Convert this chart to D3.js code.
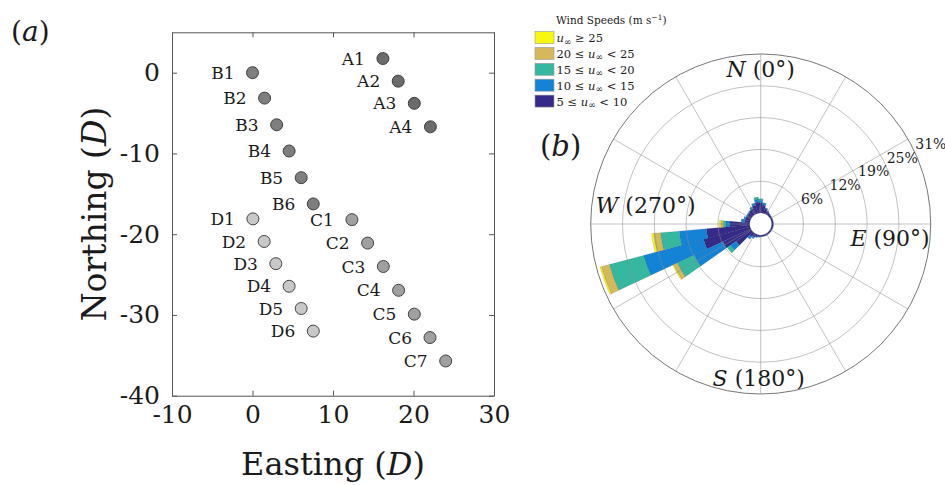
<!DOCTYPE html>
<html>
<head>
<meta charset="utf-8">
<script src="https://cdn.jsdelivr.net/npm/d3@7"></script>
<style>
  body { margin: 0; background: #fff; }
  svg { display: block; }
  text { font-family: "DejaVu Serif", serif; fill: #1a1a1a; }
</style>
</head>
<body>
<svg id="fig" width="945" height="485"></svg>
<script>
// ---------------- Turbine layout, in rotor diameters D ----------------
const turbineNames = ["A1","A2","A3","A4",
                      "B1","B2","B3","B4","B5","B6",
                      "C1","C2","C3","C4","C5","C6","C7",
                      "D1","D2","D3","D4","D5","D6"];
const easting  = [16.2, 18.1, 20.1, 22.1,
                  0.0, 1.5, 3.0, 4.55, 6.05, 7.55,
                  12.35, 14.3, 16.25, 18.15, 20.1, 22.05, 24.0,
                  0.05, 1.45, 2.9, 4.55, 6.05, 7.55];
const northing = [1.75, -1.05, -3.8, -6.7,
                  0.0, -3.15, -6.45, -9.7, -13.0, -16.25,
                  -18.2, -21.1, -24.0, -26.95, -29.9, -32.8, -35.7,
                  -18.1, -20.9, -23.65, -26.45, -29.2, -32.0];
const xTicks = [-10, 0, 10, 20, 30];
const yTicks = [-40, -30, -20, -10, 0];

// ---------------- Wind rose: frequency (%) per 10 degree sector ----------------
const directions = d3.range(0, 360, 10);
const speedBins = [5, 10, 15, 20, 25];           // lower edge of each class (m/s)
const freq5to10  = [1.95,1.55,0.95,0.65,0.45,0.35,0.30,0.30,0.30,0.30,0.30,0.30,
                    0.28,0.28,0.28,0.30,0.30,0.30,0.35,0.40,0.50,0.70,0.90,3.70,
                    6.00,9.40,8.50,3.85,1.07,0.98,0.88,0.90,1.05,1.27,1.65,2.15];
const freq10to15 = [0.55,0.40,0.20,0.10,0.05,0.05,0.05,0.05,0.05,0.05,0.05,0.03,
                    0.03,0.03,0.03,0.03,0.05,0.05,0.05,0.05,0.12,0.30,0.55,1.35,
                    6.20,12.10,5.30,0.78,0.49,0.29,0.20,0.20,0.20,0.30,0.40,0.58];
const freq15to20 = [0.30,0.05,0,0,0,0,0,0,0,0,0,0,
                    0,0,0,0,0,0,0,0,0,0,0.05,0.80,
                    3.60,6.90,3.65,0.52,0.19,0.05,0,0,0,0.05,0.05,0.39];
const freq20to25 = [0,0,0,0,0,0,0,0,0,0,0,0,
                    0,0,0,0,0,0,0,0,0,0,0,0,
                    0.80,1.60,1.35,0.45,0,0,0,0,0,0,0,0];
const freq25plus = [0,0,0,0,0,0,0,0,0,0,0,0,
                    0,0,0,0,0,0,0,0,0,0,0,0,
                    0.20,0.30,0.40,0.33,0,0,0,0,0,0,0,0];
const ringTicks  = [6.2, 12.4, 18.6, 24.8, 31];
const ringLabels = ["6%", "12%", "19%", "25%", "31%"];
const compassLabels = [
  { letter: "N", deg: "0" }, { letter: "E", deg: "90" },
  { letter: "S", deg: "180" }, { letter: "W", deg: "270" }
];

const speedColors = ["#352a87", "#1483d6", "#35b89f", "#d4b85a", "#f7f80e"];

const svg = d3.select("#fig");

// ============ (a) turbine layout ============
const plot = { left: 172, right: 494, top: 32.3, bottom: 395.7 };
const x = d3.scaleLinear().domain([-10, 30]).range([plot.left, plot.right]);
const y = d3.scaleLinear().domain([-40, 5]).range([plot.bottom, plot.top]);

const axisColor = "#555";
function styleAxis(g) {
  g.selectAll(".domain").attr("stroke", axisColor).attr("stroke-width", 1);
  g.selectAll(".tick line").attr("stroke", axisColor).attr("stroke-width", 1);
  g.selectAll(".tick text").attr("fill", "#1a1a1a")
    .style("font-family", '"DejaVu Serif", serif').style("font-size", "25px");
}
svg.append("g").attr("transform", `translate(0,${plot.bottom})`)
  .call(d3.axisBottom(x).tickValues(xTicks).tickSizeInner(-5).tickSizeOuter(0)
        .tickPadding(10).tickFormat(d => String(d)))
  .call(styleAxis);
svg.append("g").attr("transform", `translate(0,${plot.top})`)
  .call(d3.axisTop(x).tickValues(xTicks).tickSizeInner(-5).tickSizeOuter(0).tickFormat(""))
  .call(styleAxis);
svg.append("g").attr("transform", `translate(${plot.left},0)`)
  .call(d3.axisLeft(y).tickValues(yTicks).tickSizeInner(-5).tickSizeOuter(0)
        .tickPadding(12).tickFormat(d => String(d)))
  .call(styleAxis);
svg.append("g").attr("transform", `translate(${plot.right},0)`)
  .call(d3.axisRight(y).tickValues(yTicks).tickSizeInner(-5).tickSizeOuter(0).tickFormat(""))
  .call(styleAxis);

const rowFill = { A: "#6b6b6b", B: "#7e7e7e", C: "#a0a0a0", D: "#c8c8c8" };
const turbines = turbineNames.map((name, i) => ({ name, e: easting[i], n: northing[i] }));

svg.append("g").selectAll("circle").data(turbines).join("circle")
  .attr("cx", d => x(d.e)).attr("cy", d => y(d.n)).attr("r", 6)
  .attr("fill", d => rowFill[d.name[0]])
  .attr("stroke", "#333").attr("stroke-width", 0.9);

svg.append("g").selectAll("text").data(turbines).join("text")
  .attr("x", d => x(d.e) - 18).attr("y", d => y(d.n)).attr("dy", "0.36em")
  .attr("text-anchor", "end").style("font-size", "17px")
  .text(d => d.name);

// axis titles
const xt = svg.append("text").attr("x", (plot.left + plot.right) / 2).attr("y", 475)
  .attr("text-anchor", "middle").style("font-size", "32px");
xt.append("tspan").text("Easting (");
xt.append("tspan").style("font-style", "italic").text("D");
xt.append("tspan").text(")");

const yt = svg.append("text")
  .attr("transform", `translate(106,${(plot.top + plot.bottom) / 2}) rotate(-90)`)
  .attr("text-anchor", "middle").style("font-size", "33px");
yt.append("tspan").text("Northing (");
yt.append("tspan").style("font-style", "italic").text("D");
yt.append("tspan").text(")");

function panelTag(px, py, letter, size) {
  const t = svg.append("text").attr("x", px).attr("y", py).style("font-size", size + "px");
  t.append("tspan").text("(");
  t.append("tspan").style("font-style", "italic").text(letter);
  t.append("tspan").text(")");
}
panelTag(11, 41, "a", 28);
panelTag(540, 156, "b", 29);

// ============ (b) wind rose ============
const cx = 760.7, cy = 224;
const rose = svg.append("g").attr("transform", `translate(${cx},${cy})`);
const r = d3.scaleLinear().domain([0, 31]).range([11, 170]);
const deg = Math.PI / 180;

const keys = ["s5", "s10", "s15", "s20", "s25"];
const table = directions.map((dir, i) => ({
  dir, s5: freq5to10[i], s10: freq10to15[i], s15: freq15to20[i],
  s20: freq20to25[i], s25: freq25plus[i]
}));
const stacked = d3.stack().keys(keys)(table);

const arc = d3.arc();
stacked.forEach((layer, k) => {
  rose.append("g").selectAll("path")
    .data(layer.filter(d => d[1] > d[0]))
    .join("path")
    .attr("d", d => arc({
      innerRadius: r(d[0]), outerRadius: r(d[1]),
      startAngle: (d.data.dir - 5) * deg, endAngle: (d.data.dir + 5) * deg
    }))
    .attr("fill", speedColors[k])
    .attr("stroke", "#1b1b3a").attr("stroke-width", 0.3).attr("stroke-opacity", 0.4);
});

// grid on top of petals
const grid = rose.append("g").attr("fill", "none");
grid.selectAll("circle.ring").data(ringTicks.slice(0, -1)).join("circle")
  .attr("class", "ring").attr("r", d => r(d))
  .attr("stroke", "#8a8a8a").attr("stroke-width", 0.7).attr("stroke-opacity", 0.75);
grid.append("circle").attr("r", r(31)).attr("stroke", "#666").attr("stroke-width", 0.9);
grid.selectAll("line").data(d3.range(0, 360, 30)).join("line")
  .attr("x1", a => r(0) * Math.sin(a * deg)).attr("y1", a => -r(0) * Math.cos(a * deg))
  .attr("x2", a => r(31) * Math.sin(a * deg)).attr("y2", a => -r(31) * Math.cos(a * deg))
  .attr("stroke", "#8a8a8a").attr("stroke-width", 0.7).attr("stroke-opacity", 0.75);

// ring labels along the 64 degree bearing
const labelBearing = 64 * deg;
rose.append("g").selectAll("text").data(ringTicks).join("text")
  .attr("x", d => (r(d) + 2) * Math.sin(labelBearing))
  .attr("y", d => -(r(d) + 2) * Math.cos(labelBearing))
  .style("font-size", "14px")
  .text((d, i) => ringLabels[i]);

// compass labels
const compassPos = {
  N: { x: 0, y: -147, anchor: "middle" },
  E: { x: 169, y: 22, anchor: "end" },
  S: { x: -2, y: 162, anchor: "middle" },
  W: { x: -165, y: -11, anchor: "start" }
};
compassLabels.forEach(c => {
  const p = compassPos[c.letter];
  const t = rose.append("text").attr("x", p.x).attr("y", p.y)
    .attr("text-anchor", p.anchor).style("font-size", "22px");
  t.append("tspan").style("font-style", "italic").text(c.letter);
  t.append("tspan").text(` (${c.deg}°)`);
});

// legend
const legend = svg.append("g").attr("transform", "translate(535,0)");
const lt = legend.append("text").attr("x", 21).attr("y", 24).style("font-size", "10.5px");
lt.append("tspan").text("Wind Speeds (m s");
lt.append("tspan").attr("dy", -4).style("font-size", "7.5px").text("−1");
lt.append("tspan").attr("dy", 4).text(")");

const legendRows = speedBins.map((lo, k) => ({ k, lo, hi: speedBins[k + 1] })).reverse();
legendRows.forEach((row, j) => {
  const gy = 31.5 + j * 15.9;
  legend.append("rect").attr("x", 0).attr("y", gy).attr("width", 19).attr("height", 12)
    .attr("fill", speedColors[row.k]).attr("stroke", "#9a9a9a").attr("stroke-width", 0.6);
  const t = legend.append("text").attr("x", 21.5).attr("y", gy + 10.5).style("font-size", "11.5px");
  if (row.hi !== undefined) t.append("tspan").text(`${row.lo} ≤ `);
  t.append("tspan").style("font-style", "italic").text("u");
  t.append("tspan").attr("dy", 2.5).style("font-size", "9px").text("∞");
  t.append("tspan").attr("dy", -2.5).text(row.hi !== undefined ? ` < ${row.hi}` : ` ≥ ${row.lo}`);
});
</script>
</body>
</html>
